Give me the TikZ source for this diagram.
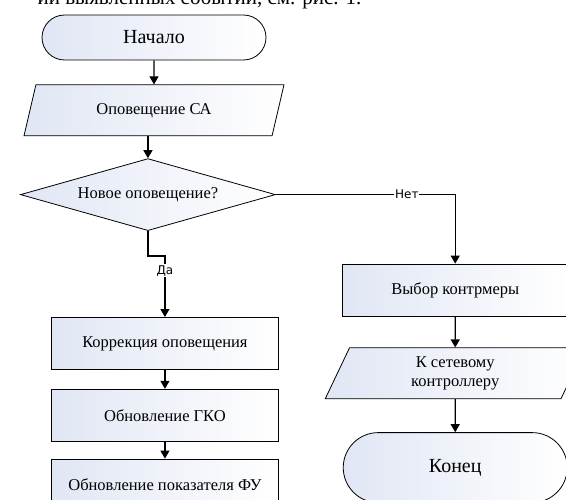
\documentclass[tikz,border=0pt]{standalone}
\usepackage{fontspec}
\setmainfont{Liberation Serif}
\newfontfamily\labelfont{DejaVu Sans}
\usepackage{tikz}
\usetikzlibrary{positioning,shapes.geometric,shapes.misc,arrows.meta}
\definecolor{shadeblue}{RGB}{224,230,244}

\begin{document}
\begin{tikzpicture}[x=1pt, y=1pt, node distance=20pt, >={Triangle[length=8pt,width=9pt]},
    every node/.style={font=\fontsize{16.5}{19}\selectfont},
    flow/.style={draw, line width=0.8pt, left color=shadeblue, right color=white, inner sep=2pt},
    term/.style={flow, rounded rectangle, minimum width=228pt, minimum height=45pt, font=\fontsize{20}{22}\selectfont},
    proc/.style={flow, rectangle, minimum width=227pt, minimum height=52pt},
    io/.style={flow, trapezium, trapezium left angle=57, trapezium right angle=123, trapezium stretches body, minimum width=260pt, minimum height=51pt, align=center},
    decision/.style={flow, diamond, aspect=3.5, minimum width=255pt, minimum height=72pt, inner sep=0pt},
    lbl/.style={fill=white, inner sep=1pt, font=\labelfont\fontsize{12}{14}\selectfont},
    line/.style={draw, line width=1.2pt, ->}]
    \useasboundingbox (0,0) rectangle (566,-500);

    % Text above the figure (cut at the page edge)
    \node[anchor=base east, font=\fontsize{21}{24}\selectfont] (caption) at (365,-5) {ии выявленных событий, см. рис. 1.};

    % Left column
    \node[term] (start) at (154,-37.5) {Начало};
    \node[io, below=24pt of start] (alert) {Оповещение СА};
    \node[decision, below=22pt of alert.bottom side] (novel) {Новое оповещение?};
    \node[proc, below=86pt of novel, xshift=17pt] (fix) {Коррекция оповещения};
    \node[proc, below=19pt of fix] (gko) {Обновление ГКО};
    \node[proc, below=17pt of gko] (fu) {Обновление показателя ФУ};

    % Right column
    \node[proc, below right=69pt and 66pt of novel.east, minimum width=226pt] (choose) {Выбор контрмеры};
    \node[io, below=31pt of choose] (relay) {К сетевому\\контроллеру};
    \node[term, below=33pt of relay, minimum height=70pt] (stop) {Конец};

    % Connectors
    \foreach \source/\dest in {start/alert, fix/gko, gko/fu, choose/relay, relay/stop} {
        \draw[line] (\source) -- (\dest);
    }
    \draw[line] (alert.bottom side) -- (novel);
    \draw[line] (novel.south) -- ++(0,-25) -| node[lbl, pos=0.62] (yes) {Да} (fix.north);
    \draw[line] (novel.east) -| node[lbl, pos=0.365] (no) {Нет} (choose.north);
\end{tikzpicture}
\end{document}
